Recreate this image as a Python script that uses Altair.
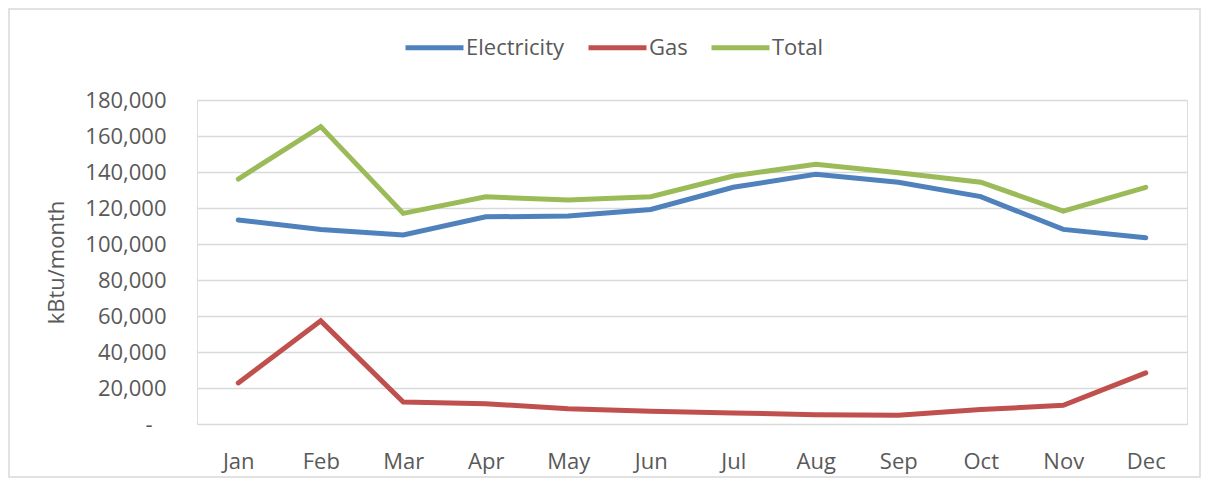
import altair as alt
import pandas as pd

months = ["Jan", "Feb", "Mar", "Apr", "May", "Jun", "Jul", "Aug", "Sep", "Oct", "Nov", "Dec"]
electricity = [113300, 108100, 105000, 115100, 115500, 119200, 131500, 138700, 134300, 126300, 108100, 103500]
gas = [22800, 57300, 12200, 11300, 8500, 7050, 6100, 5200, 4800, 8000, 10400, 28400]
total = [136100, 165200, 117000, 126250, 124400, 126250, 137800, 144300, 139600, 134300, 118300, 131500]
series_names = ["Electricity", "Gas", "Total"]
series_colors = ["#4F81BD", "#C0504D", "#9BBB59"]

rows = []
for name, vals in zip(series_names, [electricity, gas, total]):
    for m, v in zip(months, vals):
        rows.append({"Month": m, "Series": name, "Value": v})
df = pd.DataFrame(rows)

FONT = "Open Sans"
GREY = "#595959"
W, H = 990, 324

lines = alt.Chart(df).mark_line(strokeWidth=5, strokeCap="round").encode(
    x=alt.X("Month:N", sort=months, scale=alt.Scale(type="point", padding=0.5),
            axis=alt.Axis(title=None, labelFontSize=22, labelFont=FONT, labelColor=GREY,
                          ticks=False, domain=False, grid=False, labelPadding=27, labelAngle=0)),
    y=alt.Y("Value:Q", scale=alt.Scale(domain=[0, 180000], nice=False),
            axis=alt.Axis(title="kBtu/month", values=list(range(0, 180001, 20000)),
                          labelExpr="datum.value == 0 ? '-' : format(datum.value, ',')",
                          labelFontSize=22, labelFont=FONT, labelColor=GREY,
                          titleFontSize=22, titleFont=FONT, titleColor=GREY, titleFontWeight="normal",
                          titlePadding=16, ticks=False, domain=False,
                          labelPadding={"condition": {"test": "datum.value === 0", "value": 45}, "value": 31},
                          grid=True, gridColor="#D9D9D9", gridWidth=1.6)),
    color=alt.Color("Series:N", scale=alt.Scale(domain=series_names, range=series_colors),
                    legend=alt.Legend(title=None, orient="none", legendX=206, legendY=-84,
                                      direction="horizontal", symbolType="stroke",
                                      symbolStrokeWidth=5, symbolSize=3364,
                                      labelFontSize=22, labelFont=FONT, labelColor=GREY,
                                      columnPadding=13, labelOffset=0, padding=0)),
)

border = alt.Chart(pd.DataFrame({"a": [0]})).mark_rect(filled=False, stroke="#D9D9D9", strokeWidth=1.5).encode(
    x=alt.value(-188), x2=alt.value(W + 13), y=alt.value(-91), y2=alt.value(H + 53)
)

chart = alt.layer(border, lines).properties(
    width=W, height=H,
    autosize=alt.AutoSizeParams(type="none"),
    padding={"left": 189, "top": 92, "right": 14, "bottom": 54},
).configure_view(stroke=None).configure(background="white")

chart.save("out.html", embed_options={"renderer": "svg", "actions": False})
